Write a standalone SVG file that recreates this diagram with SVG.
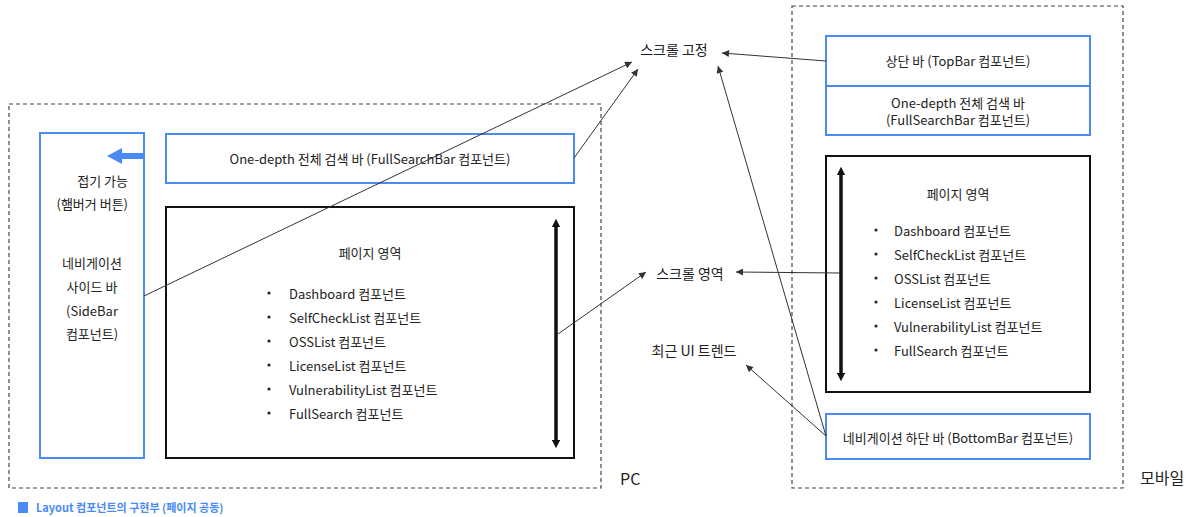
<svg xmlns="http://www.w3.org/2000/svg" width="1200" height="517" viewBox="0 0 1200 517">
<defs>
<style>
text{font-family:"Noto Sans CJK KR","Noto Sans",sans-serif;fill:#222;font-size:13px;dominant-baseline:central}
.c{text-anchor:middle}
.r{text-anchor:end}
.lbl{font-size:14px}
.big{font-size:16px}
.dash{fill:none;stroke:#444;stroke-width:1.2;stroke-dasharray:4 3}
.blue{fill:#fff;stroke:#4a8af4;stroke-width:2}
.page{fill:#fff;stroke:#111;stroke-width:2}
.conn{fill:none;stroke:#333;stroke-width:1;marker-end:url(#ah)}
.scroll{stroke:#111;stroke-width:3.5;marker-start:url(#sh);marker-end:url(#sh)}
.dot{fill:#222}
</style>
<marker id="ah" viewBox="0 0 10 10" refX="10" refY="5" markerWidth="9" markerHeight="7" markerUnits="userSpaceOnUse" orient="auto"><path d="M0,0 L10,5 L0,10 z" fill="#333"/></marker>
<marker id="sh" viewBox="0 0 10 10" refX="5" refY="5" markerWidth="2.4" markerHeight="2.4" orient="auto-start-reverse"><path d="M0,0 L10,5 L0,10 z" fill="#111"/></marker>
</defs>
<g id="pc-frame">
<rect class="dash" x="9" y="104" width="592" height="384"/>
<text class="big" x="620" y="478">PC</text>
</g>
<g id="mobile-frame">
<rect class="dash" x="792" y="6" width="331" height="482"/>
<text class="big" x="1140" y="477">모바일</text>
</g>
<g id="sidebar">
<rect class="blue" x="40" y="133" width="104" height="325"/>
<path d="M144,153 L122,153 L122,148 L107,156 L122,164 L122,159 L144,159 z" fill="#4a8af4"/>
<text class="r" x="128" y="180">접기 가능</text>
<text class="r" x="128" y="203">(햄버거 버튼)</text>
<text class="c" x="92" y="262">네비게이션</text>
<text class="c" x="92" y="286">사이드 바</text>
<text class="c" x="92" y="310">(SideBar</text>
<text class="c" x="92" y="333">컴포넌트)</text>
</g>
<g id="pc-searchbar">
<rect class="blue" x="166" y="134" width="408" height="49"/>
<text class="c" x="370" y="158">One-depth 전체 검색 바 (FullSearchBar 컴포넌트)</text>
</g>
<g id="pc-page">
<rect class="page" x="166" y="207" width="408" height="251"/>
<text class="c" x="370" y="252">페이지 영역</text>
<g>
<circle class="dot" cx="269" cy="293" r="1.6"/><text x="289" y="293">Dashboard 컴포넌트</text>
<circle class="dot" cx="269" cy="317" r="1.6"/><text x="289" y="317">SelfCheckList 컴포넌트</text>
<circle class="dot" cx="269" cy="341" r="1.6"/><text x="289" y="341">OSSList 컴포넌트</text>
<circle class="dot" cx="269" cy="365" r="1.6"/><text x="289" y="365">LicenseList 컴포넌트</text>
<circle class="dot" cx="269" cy="389" r="1.6"/><text x="289" y="389">VulnerabilityList 컴포넌트</text>
<circle class="dot" cx="269" cy="413" r="1.6"/><text x="289" y="413">FullSearch 컴포넌트</text>
</g>
<line class="scroll" x1="556" y1="223" x2="556" y2="444"/>
</g>
<g id="mobile-topbar">
<rect class="blue" x="826" y="36" width="264" height="99"/>
<line x1="826" y1="86" x2="1090" y2="86" stroke="#4a8af4" stroke-width="2"/>
<text class="c" x="958" y="60">상단 바 (TopBar 컴포넌트)</text>
<text class="c" x="958" y="102">One-depth 전체 검색 바</text>
<text class="c" x="958" y="119">(FullSearchBar 컴포넌트)</text>
</g>
<g id="mobile-page">
<rect class="page" x="826" y="156" width="264" height="236"/>
<text class="c" x="958" y="193">페이지 영역</text>
<circle class="dot" cx="876" cy="230" r="1.6"/><text x="894" y="230">Dashboard 컴포넌트</text>
<circle class="dot" cx="876" cy="254" r="1.6"/><text x="894" y="254">SelfCheckList 컴포넌트</text>
<circle class="dot" cx="876" cy="278" r="1.6"/><text x="894" y="278">OSSList 컴포넌트</text>
<circle class="dot" cx="876" cy="302" r="1.6"/><text x="894" y="302">LicenseList 컴포넌트</text>
<circle class="dot" cx="876" cy="326" r="1.6"/><text x="894" y="326">VulnerabilityList 컴포넌트</text>
<circle class="dot" cx="876" cy="350" r="1.6"/><text x="894" y="350">FullSearch 컴포넌트</text>
<line class="scroll" x1="841" y1="171" x2="841" y2="377"/>
</g>
<g id="mobile-bottombar">
<rect class="blue" x="826" y="414" width="264" height="45"/>
<text class="c" x="958" y="437">네비게이션 하단 바 (BottomBar 컴포넌트)</text>
</g>
<g id="label-fixed"><text class="c lbl" x="674" y="49">스크롤 고정</text></g>
<g id="label-scroll"><text class="c lbl" x="690" y="273">스크롤 영역</text></g>
<g id="label-trend"><text class="c lbl" x="694" y="350">최근 UI 트렌드</text></g>
<g id="connectors">
<line class="conn" x1="144" y1="296" x2="632" y2="62"/>
<line class="conn" x1="574" y1="158" x2="638" y2="69"/>
<line class="conn" x1="826" y1="61" x2="722" y2="53"/>
<line class="conn" x1="826" y1="436" x2="718" y2="66"/>
<line class="conn" x1="558" y1="334" x2="646" y2="272"/>
<line class="conn" x1="840" y1="273" x2="736" y2="272"/>
<line class="conn" x1="826" y1="436" x2="746" y2="365"/>
</g>
<g id="legend">
<rect x="18" y="502" width="10" height="11" fill="#4a8af4"/>
<text x="36" y="507" style="font-size:11px;fill:#4a8af4;font-weight:bold">Layout 컴포넌트의 구현부 (페이지 공동)</text>
</g>
</svg>
